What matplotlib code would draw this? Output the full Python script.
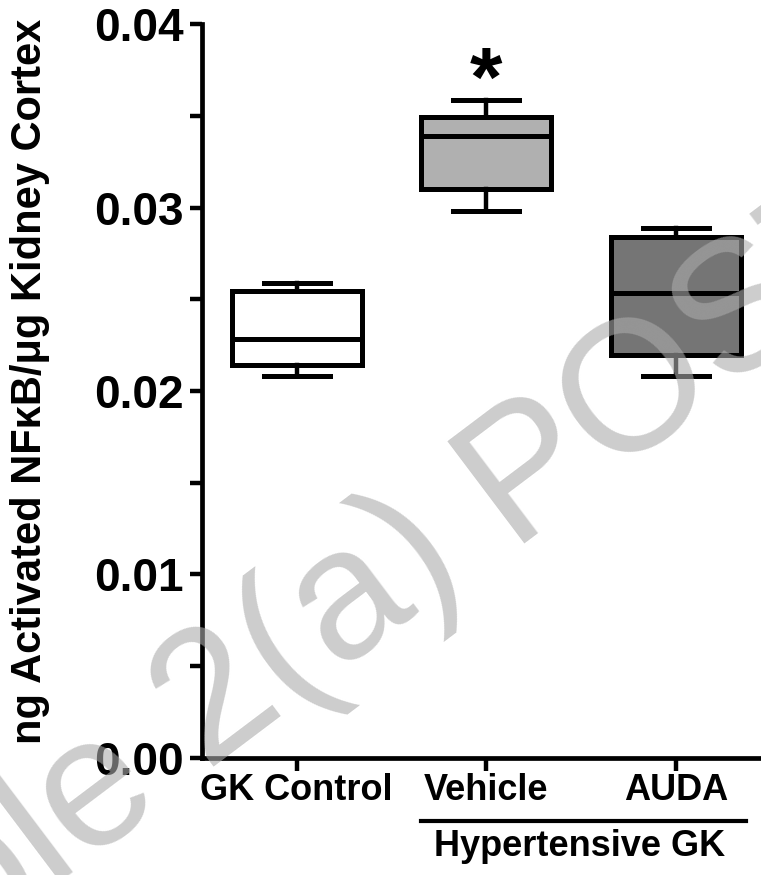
import matplotlib
matplotlib.use("Agg")
import matplotlib.pyplot as plt
from matplotlib.ticker import MultipleLocator

plt.rcParams['font.family'] = ['Liberation Sans', 'DejaVu Sans']
plt.rcParams['font.weight'] = 'bold'

# box summary values
groups = ["GK Control", "Vehicle", "AUDA"]
whisker_low = [0.02080, 0.02984, 0.02080]
q1 = [0.02144, 0.03099, 0.02195]
median = [0.02286, 0.03389, 0.02536]
q3 = [0.02546, 0.03495, 0.02841]
whisker_high = [0.02588, 0.03586, 0.02889]
fills = ["white", "#b0b0b0", "#757575"]
star_group = 1  # Vehicle

fig = plt.figure(figsize=(7.61, 8.75), dpi=100)
ax = fig.add_axes([0.2654, 0.134, 0.7346, 0.8383])

stats = []
for i in range(len(groups)):
    stats.append({
        "label": groups[i],
        "whislo": whisker_low[i],
        "q1": q1[i],
        "med": median[i],
        "q3": q3[i],
        "whishi": whisker_high[i],
        "fliers": [],
    })

box_w = 0.684
bp = ax.bxp(stats, positions=[1, 2, 3], widths=box_w, capwidths=0.346,
            patch_artist=True, showfliers=False,
            boxprops=dict(linewidth=3.6, edgecolor="black"),
            medianprops=dict(linewidth=3.6, color="black"),
            whiskerprops=dict(linewidth=3.2, color="black"),
            capprops=dict(linewidth=3.6, color="black"))
for patch, c in zip(bp["boxes"], fills):
    patch.set_facecolor(c)

ax.set_xlim(0.5, 3.45)
ax.set_ylim(0, 0.04)
ax.yaxis.set_major_locator(MultipleLocator(0.01))
ax.yaxis.set_minor_locator(MultipleLocator(0.005))
ax.yaxis.set_major_formatter(plt.FormatStrFormatter('%.2f'))

for s in ["top", "right"]:
    ax.spines[s].set_visible(False)
for s in ["left", "bottom"]:
    ax.spines[s].set_linewidth(3.4)

ax.tick_params(axis="y", which="both", length=9, width=3.2, labelsize=33, pad=4)
ax.tick_params(axis="x", length=9, width=3.2, labelsize=26, pad=2)

ax.set_ylabel("ng Activated NF\u03baB/\u03bcg Kidney Cortex", fontsize=30, fontweight="bold")
ax.yaxis.set_label_coords(-0.272, 0.5136)

# significance star above Vehicle
ax.annotate("*", xy=(star_group + 1, whisker_high[star_group]), xytext=(0, -4),
            textcoords="offset points", ha="center", va="baseline",
            fontsize=60, fontweight="bold")

# bracket for the hypertensive groups
trans = ax.get_xaxis_transform()
ax.plot([2 - box_w / 2, 3 + box_w / 2 + 0.03], [-0.0859, -0.0859], color="black",
        linewidth=3, transform=trans, clip_on=False)
ax.text(2.49, -0.1214, "Hypertensive GK", transform=trans, ha="center", va="center",
        fontsize=26, fontweight="bold")

# watermark
wm = dict(fontsize=133, fontweight="normal", color=(171/255, 171/255, 171/255), alpha=0.6,
          rotation=37, rotation_mode="anchor", va="baseline")
fig.text(0.6702, 0.3794, "POST", ha="left", **wm)
fig.text(0.6165, 0.3442, "Sample 2(a)", ha="right", **wm)

fig.savefig("out.png", dpi=100)
